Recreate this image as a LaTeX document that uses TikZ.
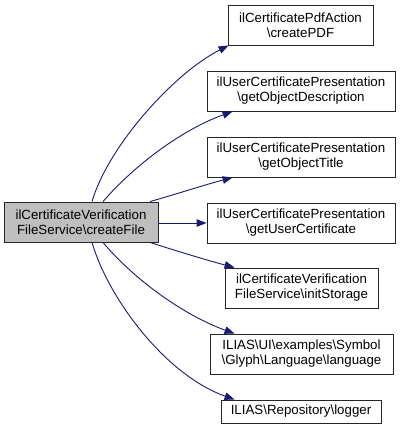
\documentclass[tikz,border=0pt]{standalone}
\usepackage{fontspec}
\setmainfont{Liberation Sans}
\usetikzlibrary{arrows.meta}
\definecolor{edgeblue}{HTML}{191970}
\definecolor{mainfill}{HTML}{BFBFBF}
\begin{document}
\begin{tikzpicture}[x=1pt,y=-1pt,
  box/.style={draw=black!85, line width=0.9pt, fill=white, align=center, inner sep=0pt,
    font=\fontsize{13.3}{15}\selectfont, minimum height=40pt},
  edge/.style={draw=edgeblue, line width=0.9pt, -{Triangle[length=10pt,width=7.5pt]}}]
\useasboundingbox (0,0) rectangle (401,430);
\node[box, fill=mainfill, minimum width=154pt] (main) at (81,222) {ilCertificateVerification\\FileService\textbackslash createFile};
\node[box, minimum width=145pt] (n1) at (300.5,25) {ilCertificatePdfAction\\\textbackslash createPDF};
\node[box, minimum width=188pt] (n2) at (301,91) {ilUserCertificatePresentation\\\textbackslash getObjectDescription};
\node[box, minimum width=188pt] (n3) at (301,157) {ilUserCertificatePresentation\\\textbackslash getObjectTitle};
\node[box, minimum width=188pt] (n4) at (301,223) {ilUserCertificatePresentation\\\textbackslash getUserCertificate};
\node[box, minimum width=153pt] (n5) at (301.5,288) {ilCertificateVerification\\FileService\textbackslash initStorage};
\node[box, minimum width=183pt] (n6) at (301.5,354) {ILIAS\textbackslash UI\textbackslash examples\textbackslash Symbol\\\textbackslash Glyph\textbackslash Language\textbackslash language};
\node[box, minimum width=160pt, minimum height=23pt] (n7) at (301,411.5) {ILIAS\textbackslash Repository\textbackslash logger};
\draw[edge] ([xshift=11pt]main.north) .. controls +(16,-55) and +(-55,28) .. ([xshift=1pt]n1.south west);
\draw[edge] ([xshift=22pt]main.north) .. controls +(32,-37) and +(-50,18) .. ([xshift=26pt]n2.south west);
\draw[edge] ([xshift=69pt]main.north) .. controls +(25,-7) and +(-30,8) .. ([xshift=26pt]n3.south west);
\draw[edge] (main.east |- n4) -- (n4.west);
\draw[edge] ([xshift=69pt]main.south) .. controls +(25,8) and +(-30,-8) .. ([xshift=10pt]n5.north west);
\draw[edge] ([xshift=22pt]main.south) .. controls +(32,38) and +(-50,-18) .. ([xshift=25pt]n6.north west);
\draw[edge] ([xshift=11pt]main.south) .. controls +(16,55) and +(-70,-25) .. ([xshift=14pt]n7.north west);
\end{tikzpicture}
\end{document}
